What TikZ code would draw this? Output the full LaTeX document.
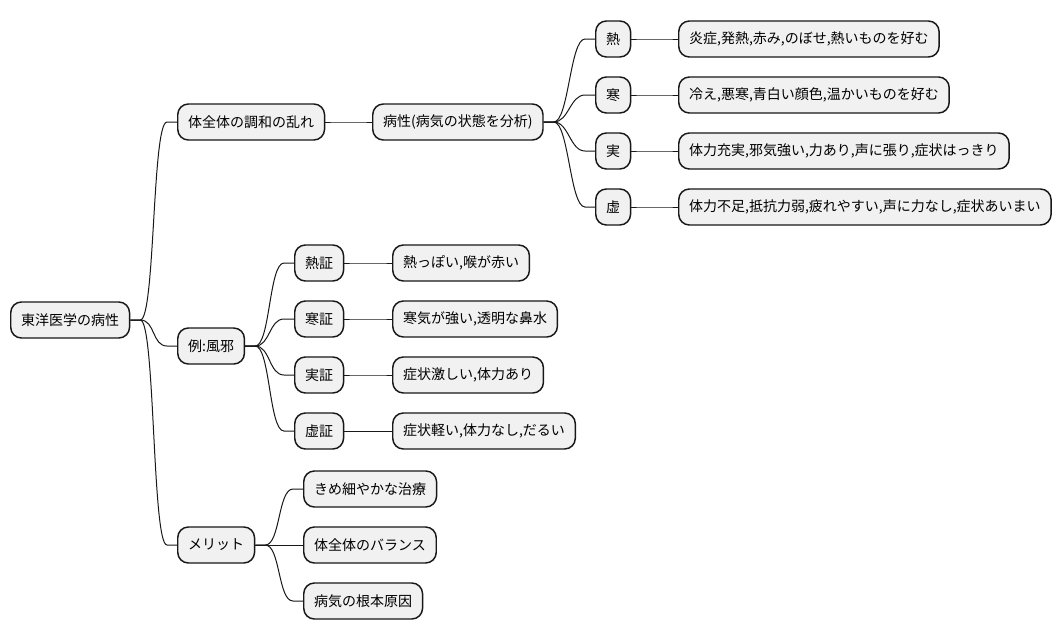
\documentclass[tikz,border=0pt]{standalone}
\usepackage{fontspec}
\setmainfont{Noto Sans CJK JP}
\usetikzlibrary{calc}
\definecolor{NodeFill}{HTML}{F1F1F1}
\definecolor{NodeLine}{HTML}{181818}
\newcommand{\branch}[2]{\draw[edge] (#1.east) -- ($(#1.east)+(10,0)$) .. controls ($(#1.east)+(25,0)$) and ($(#2.west)+(-25,0)$) .. ($(#2.west)+(-10,0)$) -- (#2.west);}

\begin{document}
\begin{tikzpicture}[x=0.75pt, y=-0.75pt]
      \tikzset{mm/.style={draw=NodeLine, fill=NodeFill, line width=1.1pt, rounded corners=8pt,
        minimum height=27pt, inner xsep=7.8pt, anchor=west, font=\fontsize{10.5}{12}\selectfont},
        edge/.style={draw=NodeLine, line width=0.75pt}}
      \fill[white] (0,0) rectangle (1063,640);
      \useasboundingbox (0,0) rectangle (1063,640);
      \node[mm] (root) at (10,320) {東洋医学の病性};
      \node[mm] (chowa) at (177,122) {体全体の調和の乱れ};
      \node[mm] (byosei) at (372,122) {病性(病気の状態を分析)};
      \node[mm] (netsu) at (595,39) {熱};
      \node[mm] (kan) at (595,95) {寒};
      \node[mm] (jitsu) at (595,151) {実};
      \node[mm] (kyo) at (595,207) {虚};
      \node[mm] (netsuD) at (678,39) {炎症,発熱,赤み,のぼせ,熱いものを好む};
      \node[mm] (kanD) at (678,95) {冷え,悪寒,青白い顔色,温かいものを好む};
      \node[mm] (jitsuD) at (678,151) {体力充実,邪気強い,力あり,声に張り,症状はっきり};
      \node[mm] (kyoD) at (678,207) {体力不足,抵抗力弱,疲れやすい,声に力なし,症状あいまい};
      \node[mm] (kaze) at (177,346) {例:風邪};
      \node[mm] (netsuS) at (294,263) {熱証};
      \node[mm] (kanS) at (294,319) {寒証};
      \node[mm] (jitsuS) at (294,375) {実証};
      \node[mm] (kyoS) at (294,431) {虚証};
      \node[mm] (netsuSD) at (392,263) {熱っぽい,喉が赤い};
      \node[mm] (kanSD) at (392,319) {寒気が強い,透明な鼻水};
      \node[mm] (jitsuSD) at (392,375) {症状激しい,体力あり};
      \node[mm] (kyoSD) at (392,431) {症状軽い,体力なし,だるい};
      \node[mm] (merit) at (177,545) {メリット};
      \node[mm] (chiryo) at (303,489) {きめ細やかな治療};
      \node[mm] (balance) at (303,545) {体全体のバランス};
      \node[mm] (gen) at (303,601) {病気の根本原因};
      \branch{root}{chowa}
      \branch{root}{kaze}
      \branch{root}{merit}
      \branch{chowa}{byosei}
      \branch{byosei}{netsu}
      \branch{byosei}{kan}
      \branch{byosei}{jitsu}
      \branch{byosei}{kyo}
      \branch{netsu}{netsuD}
      \branch{kan}{kanD}
      \branch{jitsu}{jitsuD}
      \branch{kyo}{kyoD}
      \branch{kaze}{netsuS}
      \branch{kaze}{kanS}
      \branch{kaze}{jitsuS}
      \branch{kaze}{kyoS}
      \branch{netsuS}{netsuSD}
      \branch{kanS}{kanSD}
      \branch{jitsuS}{jitsuSD}
      \branch{kyoS}{kyoSD}
      \branch{merit}{chiryo}
      \branch{merit}{balance}
      \branch{merit}{gen}
    \end{tikzpicture}
\end{document}
